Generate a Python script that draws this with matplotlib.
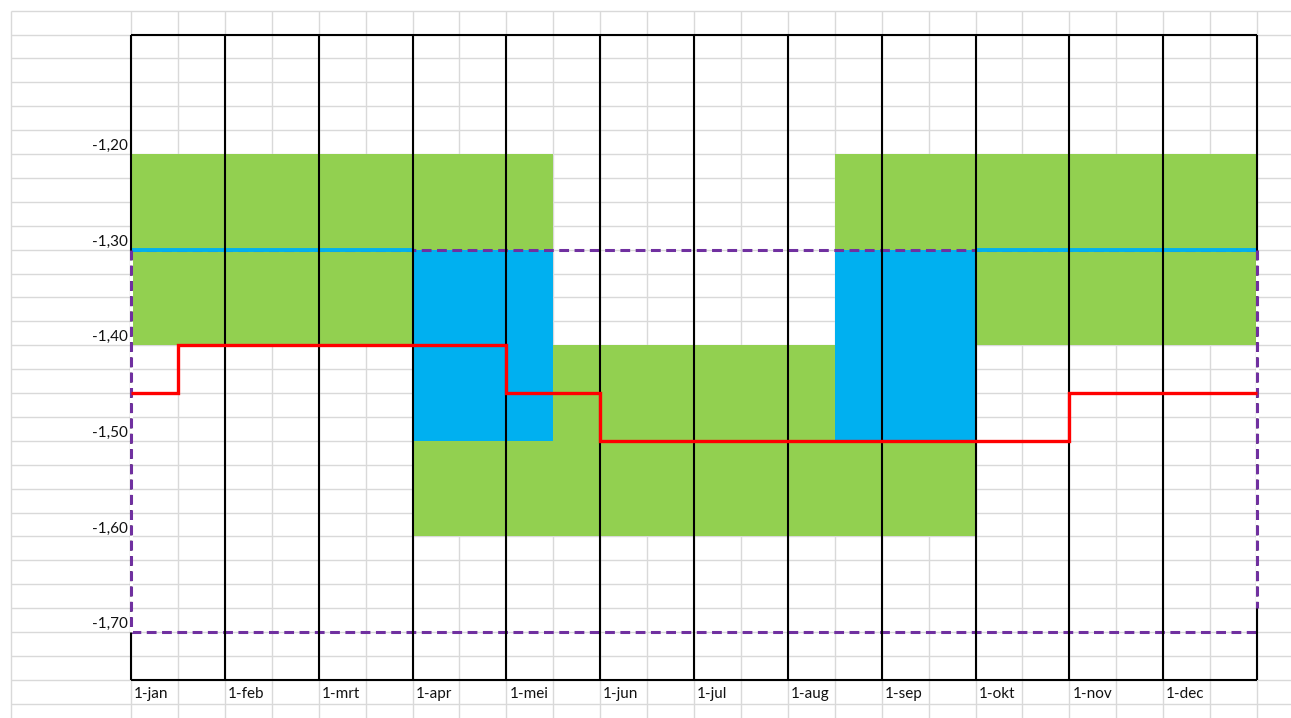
import matplotlib.pyplot as plt
from matplotlib.transforms import offset_copy

plt.rcParams['font.family'] = ['Lato', 'DejaVu Sans']

# maanden (elke maand = 2 halve kolommen)
months = ['1-jan', '1-feb', '1-mrt', '1-apr', '1-mei', '1-jun',
          '1-jul', '1-aug', '1-sep', '1-okt', '1-nov', '1-dec']
y_ticks = [-1.20, -1.30, -1.40, -1.50, -1.60, -1.70]
y_labels = ['-1,20', '-1,30', '-1,40', '-1,50', '-1,60', '-1,70']

# blokken in halve-maand kolommen: (start, eind, boven, onder)
green_blocks = [(0, 9, -1.20, -1.30), (0, 6, -1.30, -1.40),
                (15, 24, -1.20, -1.30), (18, 24, -1.30, -1.40),
                (9, 15, -1.40, -1.50), (6, 18, -1.50, -1.60)]
blue_blocks = [(6, 9, -1.30, -1.50), (15, 18, -1.30, -1.50)]

# rode traplijn
red_edges = [0, 1, 8, 10, 20, 24]
red_values = [-1.45, -1.40, -1.45, -1.50, -1.45]

# lichtblauwe lijn op -1,30
cyan_level = -1.30
cyan_spans = [(0, 6), (18, 24)]

# paarse gestippelde kader
box_x = (0, 24)
box_top, box_bottom = -1.30, -1.70
box_right_end = -1.675

chart_top, chart_bottom = -1.075, -1.75

# spreadsheet geometrie (pixels)
W, H = 1291, 718
col_w = 46.92
x0_px = 131
px_per_unit = 956.0       # ~23,9 px per rij van 0,025
ref_val, ref_px = -1.20, 154
row_top_val = -1.05       # bovenste rijlijn
colA_left = (11 - x0_px) / col_w

fig = plt.figure(figsize=(W / 100, H / 100), dpi=100)
ax = fig.add_axes([0, 0, 1, 1])
ax.set_xlim(-x0_px / col_w, (W - x0_px) / col_w)
ax.set_ylim(ref_val - (H - ref_px) / px_per_unit,
            ref_val + ref_px / px_per_unit)
ax.axis('off')
ymin, ymax = ax.get_ylim()
xmin, xmax = ax.get_xlim()

# rasterlijnen van het werkblad
grid_c = '#d9d9d9'
n_rows = 30
row_vals = [row_top_val - 0.025 * k for k in range(n_rows)]
ax.hlines(row_vals, colA_left, xmax, color=grid_c, lw=1.0, zorder=1)
ax.vlines([colA_left] + list(range(25)), ymin, row_top_val, color=grid_c, lw=1.0, zorder=1)

# gevulde cellen
for x0, x1, top, bot in green_blocks:
    ax.fill_between([x0, x1], bot, top, color='#92d050', lw=0, zorder=2)
for x0, x1, top, bot in blue_blocks:
    ax.fill_between([x0, x1], bot, top, color='#00b0f0', lw=0, zorder=2)

dash = (0, (3.2, 1.8))
purple = '#7030a0'
ax.hlines([box_top, box_bottom], box_x[0], box_x[1], color=purple, lw=2.2,
          linestyles=[dash], zorder=3)

for x0, x1 in cyan_spans:
    ax.hlines(cyan_level, x0, x1, color='#00b0f0', lw=2.8, zorder=3.5)

# zwarte maandlijnen en kader
ax.hlines([chart_top, chart_bottom], 0, 24, color='black', lw=1.5, zorder=4)
ax.vlines(range(0, 25, 2), chart_bottom, chart_top, color='black', lw=1.5, zorder=4)

ax.plot([box_x[0], box_x[0]], [box_top, box_bottom], color=purple, lw=2.2,
        linestyle=dash, gapcolor='white', zorder=5)
ax.plot([box_x[1], box_x[1]], [box_top, box_right_end], color=purple, lw=2.2,
        linestyle=dash, gapcolor='white', zorder=5)

ax.stairs(red_values, red_edges, baseline=None, color='#ff0000', lw=2.4, zorder=6)

# labels
tr_y = offset_copy(ax.transData, fig=fig, x=-3, y=4, units='dots')
for v, lab in zip(y_ticks, y_labels):
    ax.text(0, v, lab, transform=tr_y, ha='right', va='baseline',
            fontsize=11, color='#111111', zorder=7)

tr_x = offset_copy(ax.transData, fig=fig, x=3, y=6, units='dots')
label_row = row_top_val - 0.025 * 29
for i, m in enumerate(months):
    ax.text(2 * i, label_row, m, transform=tr_x, ha='left', va='baseline',
            fontsize=11, color='#111111', zorder=7)

plt.savefig('out.png', dpi=100)
